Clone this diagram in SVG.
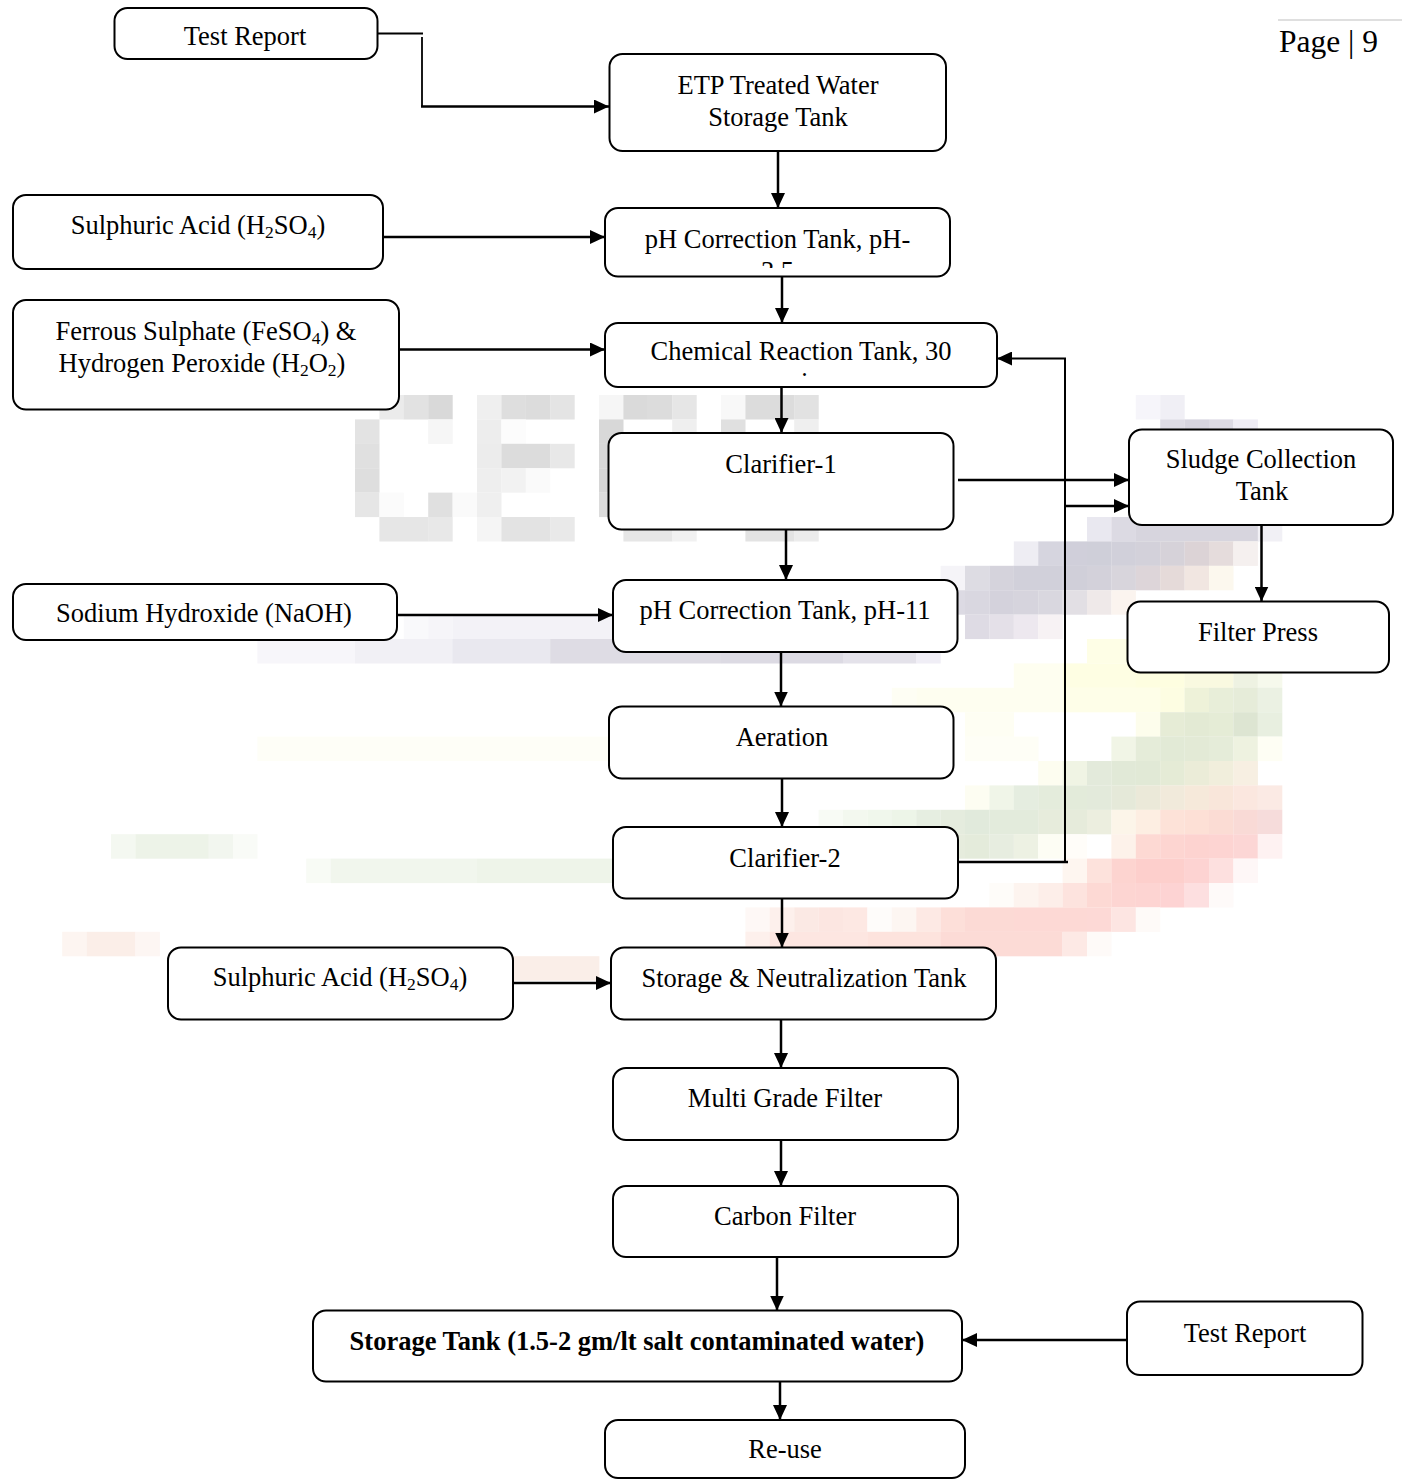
<svg xmlns="http://www.w3.org/2000/svg" width="1402" height="1480" viewBox="0 0 1402 1480">
  <style>
    .node rect { fill: #ffffff; stroke: #000000; stroke-width: 2; }
    .t { font-family: "Liberation Serif", "Times New Roman", serif; font-size: 26.5px; fill: #000000; text-anchor: middle; }
    .b { font-weight: bold; }
    .sub { font-size: 17.5px; }
    .edge { stroke: #000000; stroke-width: 2.5; fill: none; }
    .thin { stroke-width: 1.8; }
    .arr { marker-end: url(#arrow); }
    #watermark rect { height: 24.5px; }
  </style>
  <defs>
    <marker id="arrow" viewBox="0 0 15 14" refX="15" refY="7" markerWidth="15" markerHeight="14" markerUnits="userSpaceOnUse" orient="auto">
      <path d="M0,0 L15,7 L0,14 z" fill="#000000"/>
    </marker>
    <clipPath id="clipPh1"><rect x="605" y="208" width="345" height="60"/></clipPath>
    <clipPath id="clipChem"><rect x="605" y="323" width="392" height="53"/></clipPath>
  </defs>

  <rect x="0" y="0" width="1402" height="1480" fill="#ffffff"/>

  <!-- faded pixel-block logo behind the flow chart -->
  <g id="watermark">
    <!-- grey lettering -->
    <rect x="379.4" y="395" width="24.5" fill="#ebebeb"/>
    <rect x="403.8" y="395" width="24.5" fill="#e2e2e2"/>
    <rect x="428.2" y="395" width="24.5" fill="#d9d9d9"/>
    <rect x="477" y="395" width="24.5" fill="#efefef"/>
    <rect x="501.4" y="395" width="24.5" fill="#dedede"/>
    <rect x="525.8" y="395" width="24.5" fill="#dcdcdc"/>
    <rect x="550.2" y="395" width="24.5" fill="#e4e4e4"/>
    <rect x="599" y="395" width="24.5" fill="#f6f6f6"/>
    <rect x="623.4" y="395" width="24.5" fill="#dadada"/>
    <rect x="647.8" y="395" width="24.5" fill="#dcdcdc"/>
    <rect x="672.2" y="395" width="24.5" fill="#e6e6e6"/>
    <rect x="721" y="395" width="24.5" fill="#f8f8f8"/>
    <rect x="745.4" y="395" width="49" fill="#dcdcdc"/>
    <rect x="794.2" y="395" width="24.5" fill="#e2e2e2"/>

    <rect x="355" y="419.4" width="24.5" fill="#e3e3e3"/>
    <rect x="428.2" y="419.4" width="24.5" fill="#f6f6f6"/>
    <rect x="477" y="419.4" width="24.5" fill="#ededed"/>
    <rect x="501.4" y="419.4" width="24.5" fill="#fcfcfc"/>
    <rect x="599" y="419.4" width="24.5" fill="#d8d8d8"/>
    <rect x="672.2" y="419.4" width="24.5" fill="#efefef"/>
    <rect x="721" y="419.4" width="24.5" fill="#e0e0e0"/>
    <rect x="794.2" y="419.4" width="24.5" fill="#efefef"/>

    <rect x="355" y="443.8" width="24.5" fill="#e0e0e0"/>
    <rect x="477" y="443.8" width="24.5" fill="#ececec"/>
    <rect x="501.4" y="443.8" width="49" fill="#dcdcdc"/>
    <rect x="550.2" y="443.8" width="24.5" fill="#e8e8e8"/>
    <rect x="599" y="443.8" width="24.5" fill="#d8d8d8"/>

    <rect x="355" y="468.2" width="24.5" fill="#dedede"/>
    <rect x="477" y="468.2" width="24.5" fill="#eeeeee"/>
    <rect x="501.4" y="468.2" width="24.5" fill="#f2f2f2"/>
    <rect x="525.8" y="468.2" width="24.5" fill="#fafafa"/>
    <rect x="599" y="468.2" width="24.5" fill="#d6d6d6"/>

    <rect x="355" y="492.6" width="24.5" fill="#e6e6e6"/>
    <rect x="379.4" y="492.6" width="24.5" fill="#fbfbfb"/>
    <rect x="428.2" y="492.6" width="24.5" fill="#e0e0e0"/>
    <rect x="452.6" y="492.6" width="24.5" fill="#fafafa"/>
    <rect x="477" y="492.6" width="24.5" fill="#efefef"/>
    <rect x="599" y="492.6" width="24.5" fill="#dcdcdc"/>

    <rect x="379.4" y="517" width="49" fill="#e6e6e6"/>
    <rect x="428.2" y="517" width="24.5" fill="#e8e8e8"/>
    <rect x="477" y="517" width="24.5" fill="#f5f5f5"/>
    <rect x="501.4" y="517" width="49" fill="#e3e3e3"/>
    <rect x="550.2" y="517" width="24.5" fill="#e9e9e9"/>
    <rect x="623.4" y="517" width="49" fill="#e6e6e6"/>
    <rect x="672.2" y="517" width="24.5" fill="#f1f1f1"/>
    <rect x="745.4" y="517" width="49" fill="#e3e3e3"/>
    <rect x="794.2" y="517" width="24.5" fill="#ececec"/>

    <!-- lavender sweep -->
    <rect x="1135.8" y="395" width="24.5" fill="#f6f5fa"/>
    <rect x="1160.2" y="395" width="24.5" fill="#f0eff5"/>
    <rect x="1160.2" y="419.4" width="24.5" fill="#dddbe5"/>
    <rect x="1184.6" y="419.4" width="24.5" fill="#d6d4df"/>
    <rect x="1209" y="419.4" width="24.5" fill="#dcdae4"/>
    <rect x="1233.4" y="419.4" width="24.5" fill="#efedf5"/>

    <rect x="1087" y="517" width="24.5" fill="#e9e8f0"/>
    <rect x="1111.4" y="517" width="24.5" fill="#dcdae3"/>
    <rect x="1135.8" y="517" width="122.5" fill="#d7d5de"/>
    <rect x="1257.8" y="517" width="24.5" fill="#f1f0f5"/>

    <rect x="1013.8" y="541.4" width="24.5" fill="#eeedf3"/>
    <rect x="1038.2" y="541.4" width="24.5" fill="#d6d5df"/>
    <rect x="1062.6" y="541.4" width="24.5" fill="#d0cfda"/>
    <rect x="1087" y="541.4" width="24.5" fill="#cfcfd9"/>
    <rect x="1111.4" y="541.4" width="24.5" fill="#d1d0da"/>
    <rect x="1135.8" y="541.4" width="24.5" fill="#d3d1da"/>
    <rect x="1160.2" y="541.4" width="24.5" fill="#d6d2d9"/>
    <rect x="1184.6" y="541.4" width="24.5" fill="#dcd3d6"/>
    <rect x="1209" y="541.4" width="24.5" fill="#e5dcdc"/>
    <rect x="1233.4" y="541.4" width="24.5" fill="#f5f0ef"/>

    <rect x="940.6" y="565.8" width="24.5" fill="#f5f4f8"/>
    <rect x="965" y="565.8" width="24.5" fill="#dddce3"/>
    <rect x="989.4" y="565.8" width="24.5" fill="#d5d3dc"/>
    <rect x="1013.8" y="565.8" width="49" fill="#d1d0da"/>
    <rect x="1062.6" y="565.8" width="24.5" fill="#d0cfd9"/>
    <rect x="1087" y="565.8" width="24.5" fill="#d3d1da"/>
    <rect x="1111.4" y="565.8" width="24.5" fill="#d8d5dc"/>
    <rect x="1135.8" y="565.8" width="24.5" fill="#ddd5d9"/>
    <rect x="1160.2" y="565.8" width="24.5" fill="#e5dad9"/>
    <rect x="1184.6" y="565.8" width="24.5" fill="#f1e6e1"/>
    <rect x="1209" y="565.8" width="24.5" fill="#fcf8ee"/>

    <rect x="940.6" y="590.2" width="24.5" fill="#dcdae3"/>
    <rect x="965" y="590.2" width="24.5" fill="#d9d7e0"/>
    <rect x="989.4" y="590.2" width="24.5" fill="#d4d2dc"/>
    <rect x="1013.8" y="590.2" width="24.5" fill="#d6d4dd"/>
    <rect x="1038.2" y="590.2" width="24.5" fill="#d9d7df"/>
    <rect x="1062.6" y="590.2" width="24.5" fill="#e2dfe4"/>
    <rect x="1087" y="590.2" width="24.5" fill="#efe9e9"/>
    <rect x="1111.4" y="590.2" width="24.5" fill="#fbf4ef"/>

    <rect x="403.8" y="614.6" width="24.5" fill="#f9f9fb"/>
    <rect x="428.2" y="614.6" width="24.5" fill="#f6f5f9"/>
    <rect x="452.6" y="614.6" width="171" fill="#f3f2f7"/>
    <rect x="965" y="614.6" width="24.5" fill="#dedbe4"/>
    <rect x="989.4" y="614.6" width="24.5" fill="#e4e0e8"/>
    <rect x="1013.8" y="614.6" width="24.5" fill="#ede8ef"/>
    <rect x="1038.2" y="614.6" width="24.5" fill="#f7f2f4"/>

    <rect x="257.4" y="639" width="98" fill="#f7f6fa"/>
    <rect x="355" y="639" width="98" fill="#f1f0f5"/>
    <rect x="452.6" y="639" width="98" fill="#e9e8ef"/>
    <rect x="550.2" y="639" width="171" fill="#dedce4"/>
    <rect x="721" y="639" width="122" fill="#dcdae3"/>
    <rect x="843" y="639" width="73.5" fill="#e4e2ea"/>
    <rect x="916.2" y="639" width="24.5" fill="#f0eef6"/>
    <rect x="1087" y="639" width="49" fill="#fefee6"/>

    <!-- green / yellow sweep -->
    <rect x="1013.8" y="663.4" width="49" fill="#fefef0"/>
    <rect x="1062.6" y="663.4" width="73.5" fill="#fefee3"/>
    <rect x="1135.8" y="663.4" width="49" fill="#fefee0"/>
    <rect x="1184.6" y="663.4" width="49" fill="#f9f9e0"/>
    <rect x="1233.4" y="663.4" width="24.5" fill="#eef2e2"/>
    <rect x="1257.8" y="663.4" width="24.5" fill="#f6f9ec"/>

    <rect x="891.8" y="687.8" width="24.5" fill="#fefef4"/>
    <rect x="916.2" y="687.8" width="146.5" fill="#fefef0"/>
    <rect x="1062.6" y="687.8" width="98" fill="#fefee8"/>
    <rect x="1160.2" y="687.8" width="24.5" fill="#fdfde2"/>
    <rect x="1184.6" y="687.8" width="24.5" fill="#eef2d9"/>
    <rect x="1209" y="687.8" width="24.5" fill="#e8eed9"/>
    <rect x="1233.4" y="687.8" width="24.5" fill="#e6ecd9"/>
    <rect x="1257.8" y="687.8" width="24.5" fill="#ebf1e3"/>

    <rect x="965" y="712.2" width="49" fill="#fefef3"/>
    <rect x="1135.8" y="712.2" width="24.5" fill="#fdfdec"/>
    <rect x="1160.2" y="712.2" width="24.5" fill="#e6ecd6"/>
    <rect x="1184.6" y="712.2" width="24.5" fill="#e3ead4"/>
    <rect x="1209" y="712.2" width="24.5" fill="#e5ecd6"/>
    <rect x="1233.4" y="712.2" width="24.5" fill="#dde5d2"/>
    <rect x="1257.8" y="712.2" width="24.5" fill="#e8efe0"/>

    <rect x="257.4" y="736.6" width="366" fill="#fefef7"/>
    <rect x="965" y="736.6" width="73.5" fill="#fefef6"/>
    <rect x="1111.4" y="736.6" width="24.5" fill="#f1f5e6"/>
    <rect x="1135.8" y="736.6" width="24.5" fill="#e5ecd9"/>
    <rect x="1160.2" y="736.6" width="24.5" fill="#e2ead6"/>
    <rect x="1184.6" y="736.6" width="24.5" fill="#e3ead6"/>
    <rect x="1209" y="736.6" width="24.5" fill="#e5ecd9"/>
    <rect x="1233.4" y="736.6" width="24.5" fill="#eef2e0"/>
    <rect x="1257.8" y="736.6" width="24.5" fill="#fefef4"/>

    <rect x="1038.2" y="761" width="24.5" fill="#fdfdf0"/>
    <rect x="1062.6" y="761" width="24.5" fill="#f0f4e4"/>
    <rect x="1087" y="761" width="24.5" fill="#e3eadb"/>
    <rect x="1111.4" y="761" width="24.5" fill="#e1e9d7"/>
    <rect x="1135.8" y="761" width="24.5" fill="#e1e9d6"/>
    <rect x="1160.2" y="761" width="24.5" fill="#e5ebd6"/>
    <rect x="1184.6" y="761" width="24.5" fill="#ebecd8"/>
    <rect x="1209" y="761" width="24.5" fill="#f1eedc"/>
    <rect x="1233.4" y="761" width="24.5" fill="#f7efe2"/>

    <rect x="965" y="785.4" width="24.5" fill="#fdfdf2"/>
    <rect x="989.4" y="785.4" width="24.5" fill="#f0f5e8"/>
    <rect x="1013.8" y="785.4" width="24.5" fill="#e5ede0"/>
    <rect x="1038.2" y="785.4" width="24.5" fill="#e4ecdc"/>
    <rect x="1062.6" y="785.4" width="24.5" fill="#e3ebda"/>
    <rect x="1087" y="785.4" width="24.5" fill="#e3eadb"/>
    <rect x="1111.4" y="785.4" width="24.5" fill="#e5e9d9"/>
    <rect x="1135.8" y="785.4" width="24.5" fill="#ebe9d9"/>
    <rect x="1160.2" y="785.4" width="24.5" fill="#f1eadb"/>
    <rect x="1184.6" y="785.4" width="24.5" fill="#f6e9da"/>
    <rect x="1209" y="785.4" width="24.5" fill="#f9e6da"/>
    <rect x="1233.4" y="785.4" width="24.5" fill="#fbe7df"/>
    <rect x="1257.8" y="785.4" width="24.5" fill="#fbeae4"/>

    <rect x="818.6" y="809.8" width="24.5" fill="#f8fbf5"/>
    <rect x="843" y="809.8" width="24.5" fill="#f3f8ef"/>
    <rect x="867.4" y="809.8" width="24.5" fill="#f0f7ec"/>
    <rect x="891.8" y="809.8" width="24.5" fill="#edf5e8"/>
    <rect x="916.2" y="809.8" width="24.5" fill="#e6eee1"/>
    <rect x="940.6" y="809.8" width="24.5" fill="#e5ecde"/>
    <rect x="965" y="809.8" width="24.5" fill="#e1eadc"/>
    <rect x="989.4" y="809.8" width="49" fill="#e3ebdc"/>
    <rect x="1038.2" y="809.8" width="24.5" fill="#e7ecdc"/>
    <rect x="1062.6" y="809.8" width="24.5" fill="#e6ebdb"/>
    <rect x="1087" y="809.8" width="24.5" fill="#eceedf"/>
    <rect x="1111.4" y="809.8" width="24.5" fill="#fcf5e9"/>
    <rect x="1135.8" y="809.8" width="24.5" fill="#fdeee2"/>
    <rect x="1160.2" y="809.8" width="24.5" fill="#fde2d8"/>
    <rect x="1184.6" y="809.8" width="24.5" fill="#fde0d6"/>
    <rect x="1209" y="809.8" width="24.5" fill="#fbdcd4"/>
    <rect x="1233.4" y="809.8" width="24.5" fill="#f9dad6"/>
    <rect x="1257.8" y="809.8" width="24.5" fill="#f6dcdb"/>

    <rect x="111" y="834.2" width="24.5" fill="#f4f8f1"/>
    <rect x="135.4" y="834.2" width="73.5" fill="#edf3e8"/>
    <rect x="208.6" y="834.2" width="24.5" fill="#f2f6ef"/>
    <rect x="233" y="834.2" width="24.5" fill="#f9fbf7"/>
    <rect x="940.6" y="834.2" width="24.5" fill="#e6ecdd"/>
    <rect x="965" y="834.2" width="24.5" fill="#e4ebdb"/>
    <rect x="989.4" y="834.2" width="24.5" fill="#e7ede0"/>
    <rect x="1013.8" y="834.2" width="24.5" fill="#edf1e3"/>
    <rect x="1038.2" y="834.2" width="24.5" fill="#fdfdf4"/>
    <rect x="1062.6" y="834.2" width="24.5" fill="#fffdf9"/>
    <rect x="1111.4" y="834.2" width="24.5" fill="#fdf2ea"/>
    <rect x="1135.8" y="834.2" width="24.5" fill="#fdd9d3"/>
    <rect x="1160.2" y="834.2" width="24.5" fill="#fdd5d1"/>
    <rect x="1184.6" y="834.2" width="24.5" fill="#fdd3d0"/>
    <rect x="1209" y="834.2" width="24.5" fill="#fdd4d2"/>
    <rect x="1233.4" y="834.2" width="24.5" fill="#fcd6d5"/>
    <rect x="1257.8" y="834.2" width="24.5" fill="#fef2f2"/>

    <rect x="306.2" y="858.6" width="24.5" fill="#f8fbf5"/>
    <rect x="330.6" y="858.6" width="146.5" fill="#f1f6ed"/>
    <rect x="477" y="858.6" width="146.5" fill="#eef4e9"/>
    <rect x="1062.6" y="858.6" width="24.5" fill="#fef6f0"/>
    <rect x="1087" y="858.6" width="24.5" fill="#fde2dc"/>
    <rect x="1111.4" y="858.6" width="24.5" fill="#fdd4d0"/>
    <rect x="1135.8" y="858.6" width="49" fill="#fdcfcc"/>
    <rect x="1184.6" y="858.6" width="24.5" fill="#fdd3d2"/>
    <rect x="1209" y="858.6" width="24.5" fill="#fde0df"/>
    <rect x="1233.4" y="858.6" width="24.5" fill="#fef7f7"/>

    <rect x="989.4" y="883" width="24.5" fill="#fefcf9"/>
    <rect x="1013.8" y="883" width="24.5" fill="#fdf4ef"/>
    <rect x="1038.2" y="883" width="24.5" fill="#fdeee9"/>
    <rect x="1062.6" y="883" width="24.5" fill="#fde3de"/>
    <rect x="1087" y="883" width="24.5" fill="#fdd9d4"/>
    <rect x="1111.4" y="883" width="24.5" fill="#fdd5d2"/>
    <rect x="1135.8" y="883" width="24.5" fill="#fdd4d2"/>
    <rect x="1160.2" y="883" width="24.5" fill="#fdd3d3"/>
    <rect x="1184.6" y="883" width="24.5" fill="#fddfe0"/>
    <rect x="1209" y="883" width="24.5" fill="#fefaf9"/>

    <!-- rose sweep -->
    <rect x="745.4" y="907.4" width="24.5" fill="#fef8f6"/>
    <rect x="769.8" y="907.4" width="24.5" fill="#fdf0ec"/>
    <rect x="794.2" y="907.4" width="24.5" fill="#fbe9e4"/>
    <rect x="818.6" y="907.4" width="24.5" fill="#fce6e1"/>
    <rect x="843" y="907.4" width="24.5" fill="#fde8e3"/>
    <rect x="867.4" y="907.4" width="24.5" fill="#fefcfa"/>
    <rect x="891.8" y="907.4" width="24.5" fill="#fdf6f2"/>
    <rect x="916.2" y="907.4" width="24.5" fill="#fde9e4"/>
    <rect x="940.6" y="907.4" width="24.5" fill="#fddfd9"/>
    <rect x="965" y="907.4" width="49" fill="#fcdad5"/>
    <rect x="1013.8" y="907.4" width="73.5" fill="#fdd9d5"/>
    <rect x="1087" y="907.4" width="24.5" fill="#fdd9d6"/>
    <rect x="1111.4" y="907.4" width="24.5" fill="#fde5e2"/>
    <rect x="1135.8" y="907.4" width="24.5" fill="#fefaf8"/>

    <rect x="62.2" y="931.8" width="24.5" fill="#fdf5f1"/>
    <rect x="86.6" y="931.8" width="49" fill="#fbeee8"/>
    <rect x="135.4" y="931.8" width="24.5" fill="#fdf6f3"/>
    <rect x="745.4" y="931.8" width="24.5" fill="#fdf0ec"/>
    <rect x="769.8" y="931.8" width="98" fill="#fde6e1"/>
    <rect x="867.4" y="931.8" width="73.5" fill="#fde3dd"/>
    <rect x="940.6" y="931.8" width="122" fill="#fcdbd6"/>
    <rect x="1062.6" y="931.8" width="24.5" fill="#fde9e5"/>
    <rect x="1087" y="931.8" width="24.5" fill="#fefaf8"/>

    <rect x="501.4" y="956.2" width="98" fill="#faeee8"/>
  </g>

  <!-- page header -->
  <g id="header">
    <line x1="1278" y1="20" x2="1402" y2="20" stroke="#d4d4d4" stroke-width="1.5"/>
    <text x="1279" y="52" font-family="'Liberation Serif', 'Times New Roman', serif" font-size="31.5" fill="#000000">Page | 9</text>
  </g>

  <!-- connectors -->
  <g id="connectors">
    <path class="edge thin" d="M378,33.5 H423"/>
    <path class="edge thin" d="M422,37 V106.5"/>
    <path class="edge arr" d="M421,106.5 H609"/>
    <path class="edge arr" d="M778,151 V208"/>
    <path class="edge arr" d="M383,237 H605"/>
    <path class="edge arr" d="M782,276.5 V323"/>
    <path class="edge arr" d="M399,349.5 H605"/>
    <path class="edge arr" d="M781.5,387 V433"/>
    <path class="edge arr" d="M958,480 H1129"/>
    <path class="edge" d="M958,862 H1068"/>
    <path class="edge arr" style="stroke-width:2" d="M1065,863 V358.5 H997"/>
    <path class="edge arr" d="M1065,506 H1129"/>
    <path class="edge arr" d="M786,529.5 V580"/>
    <path class="edge arr" d="M1261.5,525 V601.5"/>
    <path class="edge arr" d="M397,615 H613"/>
    <path class="edge arr" d="M781,652 V706.5"/>
    <path class="edge arr" d="M782,778.5 V827"/>
    <path class="edge arr" d="M782,898.5 V947.5"/>
    <path class="edge arr" d="M513,983 H611"/>
    <path class="edge arr" d="M781,1019.5 V1068"/>
    <path class="edge arr" d="M781,1140 V1186"/>
    <path class="edge arr" d="M777,1257 V1310.5"/>
    <path class="edge arr" d="M1127,1340 H962"/>
    <path class="edge arr" d="M780,1381.5 V1420"/>
  </g>

  <!-- process boxes -->
  <g id="test-report-top" class="node">
    <rect x="114.5" y="8" width="263" height="51" rx="13"/>
    <text class="t" x="245" y="45">Test Report</text>
  </g>
  <g id="etp-storage" class="node">
    <rect x="609.5" y="54" width="336.5" height="97" rx="13"/>
    <text class="t" x="778" y="94">ETP Treated Water</text>
    <text class="t" x="778" y="126">Storage Tank</text>
  </g>
  <g id="sulphuric-acid-1" class="node">
    <rect x="13" y="195" width="370" height="74" rx="13"/>
    <text class="t" x="198" y="234">Sulphuric Acid (H<tspan class="sub" dy="4">2</tspan><tspan dy="-4">SO</tspan><tspan class="sub" dy="4">4</tspan><tspan dy="-4">)</tspan></text>
  </g>
  <g id="ph-correction-1" class="node">
    <rect x="605" y="208" width="345" height="68.5" rx="13"/>
    <g clip-path="url(#clipPh1)">
      <text class="t" x="777.5" y="247.5">pH Correction Tank, pH-</text>
      <text class="t" x="777.5" y="280">3.5</text>
    </g>
  </g>
  <g id="ferrous-peroxide" class="node">
    <rect x="13" y="300" width="386" height="109.5" rx="13"/>
    <text class="t" x="206" y="339.5">Ferrous Sulphate (FeSO<tspan class="sub" dy="4">4</tspan><tspan dy="-4">) &amp;</tspan></text>
    <text class="t" x="202" y="372">Hydrogen Peroxide (H<tspan class="sub" dy="4">2</tspan><tspan dy="-4">O</tspan><tspan class="sub" dy="4">2</tspan><tspan dy="-4">)</tspan></text>
  </g>
  <g id="chemical-reaction" class="node">
    <rect x="605" y="323" width="392" height="64" rx="13"/>
    <g clip-path="url(#clipChem)">
      <text class="t" x="801" y="359.5">Chemical Reaction Tank, 30</text>
      <text class="t" x="801" y="390.5">min</text>
    </g>
  </g>
  <g id="clarifier-1" class="node">
    <rect x="608.5" y="433" width="345" height="96.5" rx="13"/>
    <text class="t" x="781" y="473">Clarifier-1</text>
  </g>
  <g id="sludge-collection" class="node">
    <rect x="1129" y="429.5" width="264" height="95.5" rx="13"/>
    <text class="t" x="1261" y="468">Sludge Collection</text>
    <text class="t" x="1262" y="500">Tank</text>
  </g>
  <g id="sodium-hydroxide" class="node">
    <rect x="13" y="584" width="384" height="56" rx="13"/>
    <text class="t" x="204" y="622">Sodium Hydroxide (NaOH)</text>
  </g>
  <g id="ph-correction-2" class="node">
    <rect x="613" y="580" width="344.5" height="72" rx="13"/>
    <text class="t" x="785" y="619">pH Correction Tank, pH-11</text>
  </g>
  <g id="filter-press" class="node">
    <rect x="1127.5" y="601.5" width="261.5" height="71" rx="13"/>
    <text class="t" x="1258" y="641">Filter Press</text>
  </g>
  <g id="aeration" class="node">
    <rect x="609" y="706.5" width="344.5" height="72" rx="13"/>
    <text class="t" x="782" y="746">Aeration</text>
  </g>
  <g id="clarifier-2" class="node">
    <rect x="613" y="827" width="345" height="71.5" rx="13"/>
    <text class="t" x="785" y="867">Clarifier-2</text>
  </g>
  <g id="sulphuric-acid-2" class="node">
    <rect x="168" y="947.5" width="345" height="72" rx="13"/>
    <text class="t" x="340" y="986">Sulphuric Acid (H<tspan class="sub" dy="4">2</tspan><tspan dy="-4">SO</tspan><tspan class="sub" dy="4">4</tspan><tspan dy="-4">)</tspan></text>
  </g>
  <g id="storage-neutralization" class="node">
    <rect x="611" y="947.5" width="385" height="72" rx="13"/>
    <text class="t" x="804" y="987">Storage &amp; Neutralization Tank</text>
  </g>
  <g id="multi-grade-filter" class="node">
    <rect x="613" y="1068" width="345" height="72" rx="13"/>
    <text class="t" x="785" y="1107">Multi Grade Filter</text>
  </g>
  <g id="carbon-filter" class="node">
    <rect x="613" y="1186" width="345" height="71" rx="13"/>
    <text class="t" x="785" y="1225">Carbon Filter</text>
  </g>
  <g id="storage-tank" class="node">
    <rect x="313" y="1310.5" width="649" height="71" rx="13"/>
    <text class="t b" x="637" y="1350">Storage Tank (1.5-2 gm/lt salt contaminated water)</text>
  </g>
  <g id="test-report-bottom" class="node">
    <rect x="1127" y="1301.5" width="235.5" height="73.5" rx="13"/>
    <text class="t" x="1245" y="1341.5">Test Report</text>
  </g>
  <g id="re-use" class="node">
    <rect x="605" y="1420" width="360" height="58" rx="13"/>
    <text class="t" x="785" y="1458">Re-use</text>
  </g>
</svg>
